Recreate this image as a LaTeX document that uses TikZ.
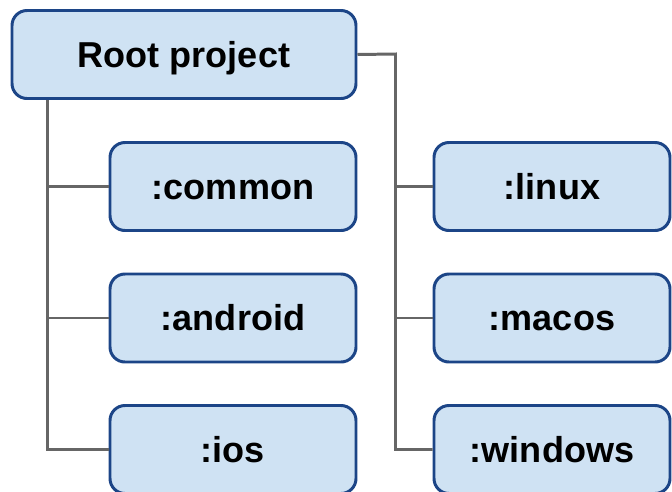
\documentclass[tikz,border=0pt]{standalone}
\usepackage{fontspec}
\setmainfont{Liberation Sans}
\usepackage{tikz}
\usetikzlibrary{calc}

\definecolor{boxfill}{HTML}{CFE2F3}
\definecolor{boxline}{HTML}{1C4587}
\definecolor{wire}{HTML}{666666}

\tikzset{
	module/.style={draw=boxline, fill=boxfill, line width=1.7pt, rounded corners=0.3cm,
		minimum height=1.76cm, inner sep=0pt, text height=14.7pt, text depth=0pt,
		font=\bfseries\fontsize{20.5}{24}\selectfont},
	tree/.style={draw=wire, line width=1.7pt}
}

\begin{document}
\begin{tikzpicture}
			%%%%% START %%%%%
			\useasboundingbox (0, 0) rectangle (13.44, -9.84);
			
			\node[module, minimum width=6.88cm] (root) at (3.68, -1.09) {Root project};
			
			\node[module, minimum width=4.92cm] (common) at (4.66, -3.73) {:common};
			\node[module, minimum width=4.92cm] (android) at (4.66, -6.36) {:android};
			\node[module, minimum width=4.92cm] (ios) at (4.66, -8.99) {:ios};
			
			\node[module, minimum width=4.72cm] (linux) at (11.04, -3.73) {:linux};
			\node[module, minimum width=4.72cm] (macos) at (11.04, -6.36) {:macos};
			\node[module, minimum width=4.72cm] (windows) at (11.04, -8.99) {:windows};
			
			% left branch
			\coordinate (trunkL) at ($(root.south west)+(0.74, 0)$);
			\draw[tree] (trunkL) |- (ios.west);
			\draw[tree] (trunkL |- common.west) -- (common.west);
			\draw[tree] (trunkL |- android.west) -- (android.west);
			
			% right branch
			\coordinate (trunkR) at (7.91, -1.08);
			\draw[tree] (root.east) -- (trunkR) |- (windows.west);
			\draw[tree] (trunkR |- linux.west) -- (linux.west);
			\draw[tree] (trunkR |- macos.west) -- (macos.west);
			
			%%%%% END %%%%%
		\end{tikzpicture}
\end{document}
